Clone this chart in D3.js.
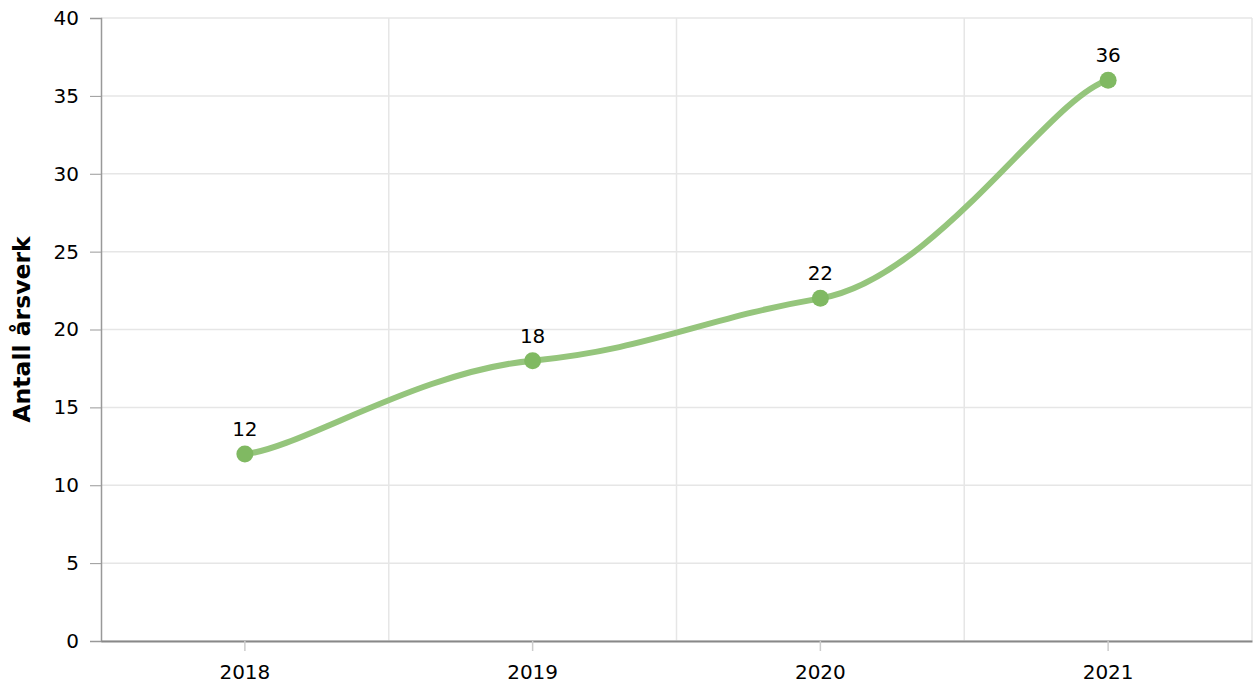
<!DOCTYPE html>
<html>
<head>
<meta charset="utf-8">
<script src="https://cdn.jsdelivr.net/npm/d3@7"></script>
<style>
  body { margin: 0; background: #fff; }
  svg { font-family: Verdana, "DejaVu Sans", sans-serif; }
</style>
</head>
<body>
<div id="chart"></div>
<script>
const years = ['2018', '2019', '2020', '2021']
const values = [12, 18, 22, 36]
const yTicks = [0, 5, 10, 15, 20, 25, 30, 35, 40]

const width = 1258, height = 695
const margin = { top: 18, right: 6, bottom: 54, left: 101 }
const innerW = width - margin.left - margin.right
const innerH = height - margin.top - margin.bottom
const fontFam = 'Verdana, "DejaVu Sans", sans-serif'

const svg = d3.select('#chart').append('svg')
  .attr('width', width).attr('height', height)

const g = svg.append('g')
  .attr('transform', 'translate(' + margin.left + ',' + margin.top + ')')

const x = d3.scaleBand().domain(years).range([0, innerW])
const y = d3.scaleLinear().domain([0, 40]).range([innerH, 0])

// horizontal grid
g.append('g').selectAll('line')
  .data(yTicks).enter().append('line')
  .attr('x1', 0).attr('x2', innerW)
  .attr('y1', d => y(d)).attr('y2', d => y(d))
  .attr('stroke', '#e6e6e6').attr('stroke-width', 1.5)

// vertical grid between categories
g.append('g').selectAll('line')
  .data(years).enter().append('line')
  .attr('x1', d => x(d) + x.bandwidth()).attr('x2', d => x(d) + x.bandwidth())
  .attr('y1', 0).attr('y2', innerH)
  .attr('stroke', '#e6e6e6').attr('stroke-width', 1.5)

// y axis
const yAxis = g.append('g')
  .call(d3.axisLeft(y).tickValues(yTicks).tickSize(11).tickPadding(11))
yAxis.select('.domain').attr('stroke', '#999').attr('stroke-width', 1.5)
yAxis.selectAll('.tick line').attr('stroke', '#999')
yAxis.selectAll('text').attr('font-size', 20).attr('fill', '#000')
  .attr('font-family', fontFam)

// x axis
const xAxis = g.append('g')
  .attr('transform', 'translate(0,' + innerH + ')')
  .call(d3.axisBottom(x).tickSize(10).tickSizeOuter(0).tickPadding(14))
xAxis.select('.domain').attr('stroke', '#888').attr('stroke-width', 2)
xAxis.selectAll('.tick line').attr('stroke', '#ccc').attr('stroke-width', 1.5)
xAxis.selectAll('text').attr('font-size', 20).attr('fill', '#000')
  .attr('font-family', fontFam)

// axis title
svg.append('text')
  .attr('transform', 'translate(30,' + (margin.top + innerH / 2) + ') rotate(-90)')
  .attr('text-anchor', 'middle')
  .attr('font-size', 23.5).attr('font-weight', 'bold')
  .text('Antall årsverk')

// smoothed line, tension style (separate x / y tension)
const pts = years.map((yr, i) => [x(yr) + x.bandwidth() / 2, y(values[i])])
function smoothPath(p, ax, ay) {
  const path = d3.path()
  path.moveTo(p[0][0], p[0][1])
  for (let i = 0; i < p.length - 1; i++) {
    const p1 = p[i], p2 = p[i + 1]
    const p0 = i === 0 ? p1 : p[i - 1]
    const p3 = i === p.length - 2 ? p2 : p[i + 2]
    const ca = [p1[0] + ax * (p2[0] - p0[0]), p1[1] + ay * (p2[1] - p0[1])]
    const cb = [p2[0] - ax * (p3[0] - p1[0]), p2[1] - ay * (p3[1] - p1[1])]
    path.bezierCurveTo(ca[0], ca[1], cb[0], cb[1], p2[0], p2[1])
  }
  return path.toString()
}

g.append('path')
  .attr('d', smoothPath(pts, 0.2, 0.07))
  .attr('fill', 'none')
  .attr('stroke', '#95c57c')
  .attr('stroke-width', 6)
  .attr('stroke-linecap', 'round')

g.selectAll('.dot')
  .data(values).enter().append('circle')
  .attr('class', 'dot')
  .attr('cx', (d, i) => x(years[i]) + x.bandwidth() / 2)
  .attr('cy', d => y(d))
  .attr('r', 8.5)
  .attr('fill', '#80b962')

g.selectAll('.lbl')
  .data(values).enter().append('text')
  .attr('class', 'lbl')
  .attr('x', (d, i) => x(years[i]) + x.bandwidth() / 2)
  .attr('y', d => y(d) - 18)
  .attr('text-anchor', 'middle')
  .attr('font-size', 20)
  .attr('font-family', fontFam)
  .text(d => d)
</script>
</body>
</html>
